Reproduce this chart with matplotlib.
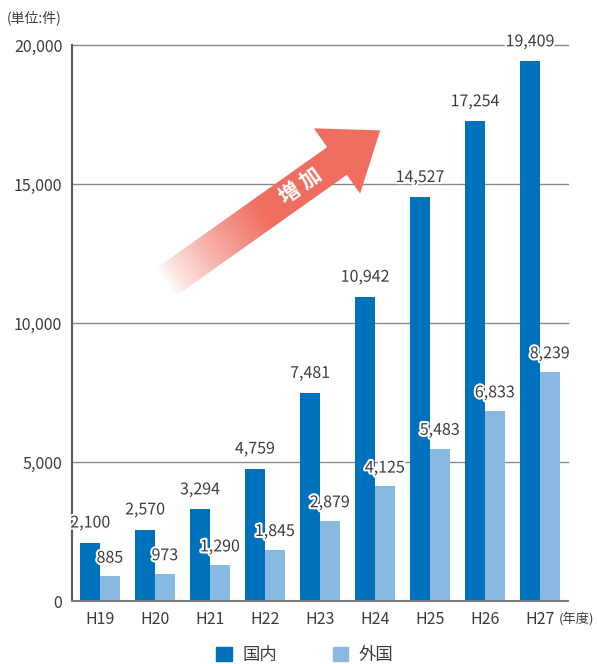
import matplotlib.pyplot as plt
import matplotlib.patheffects as pe
from matplotlib.patches import Patch, Polygon
import numpy as np

plt.rcParams['font.family'] = ['Noto Sans CJK JP', 'DejaVu Sans']

# data
years = ['H19', 'H20', 'H21', 'H22', 'H23', 'H24', 'H25', 'H26', 'H27']
domestic = [2100, 2570, 3294, 4759, 7481, 10942, 14527, 17254, 19409]
foreign = [885, 973, 1290, 1845, 2879, 4125, 5483, 6833, 8239]
series_names = ['国内', '外国']

dark_blue = '#0071bc'
light_blue = '#88b9e3'
text_col = '#3c3c3c'

W, H = 597, 664
fig = plt.figure(figsize=(W / 100, H / 100), dpi=100)
ax = fig.add_axes([72 / W, 1 - 601 / H, 496 / W, 556 / H])

x = np.arange(len(years))
bw = 0.36
ax.bar(x - 0.18, domestic, width=bw, color=dark_blue, zorder=2)
ax.bar(x + 0.18, foreign, width=bw, color=light_blue, zorder=2)

halo = [pe.withStroke(linewidth=3, foreground='white')]
for xi, v in zip(x, domestic):
    ax.annotate(f'{v:,}', (xi - 0.18, v), xytext=(0, 8), textcoords='offset points',
                ha='center', va='bottom', fontsize=11.5, color=text_col, path_effects=halo, zorder=4)
for xi, v in zip(x, foreign):
    ax.annotate(f'{v:,}', (xi + 0.18, v), xytext=(0, 7), textcoords='offset points',
                ha='center', va='bottom', fontsize=11.5, color=text_col, path_effects=halo, zorder=4)

ax.set_xlim(-0.51, len(years) - 0.49)
ax.set_ylim(0, 20000)
yt = [0, 5000, 10000, 15000, 20000]
ax.set_yticks(yt)
ax.set_yticklabels([f'{v:,}' for v in yt])
for v in yt[1:]:
    ax.axhline(v, color='#8a8a8a', lw=1, zorder=0, clip_on=False)
ax.set_xticks(x)
ax.set_xticklabels(years)
ax.tick_params(length=0, labelsize=11.5, colors=text_col, pad=7)
for s in ['top', 'right']:
    ax.spines[s].set_visible(False)
ax.spines['left'].set_color('#5a5a5a')
ax.spines['left'].set_linewidth(1.5)
ax.spines['bottom'].set_color('#7a7a7a')
ax.spines['bottom'].set_linewidth(1.5)

fig.text(7 / W, 1 - 18 / H, '(単位:件)', fontsize=10, color=text_col, va='center', ha='left')
fig.text(576 / W, 1 - 620 / H, '(年度)', fontsize=9.5, color=text_col, va='center', ha='center')

fig.legend(handles=[Patch(color=dark_blue), Patch(color=light_blue)], labels=series_names,
           loc='center', bbox_to_anchor=(305 / W, 1 - 655 / H), ncol=2, frameon=False,
           fontsize=12.5, handlelength=0.9, handleheight=0.9, columnspacing=3.2,
           handletextpad=0.6, labelcolor=text_col)

# growth arrow (decoration, pixel coordinates)
ov = fig.add_axes([0, 0, 1, 1], zorder=5)
ov.set_xlim(0, W)
ov.set_ylim(H, 0)
ov.axis('off')
ov.patch.set_visible(False)

d = np.array([0.816, -0.578])
n = np.array([0.578, 0.816])
B = np.array([337.0, 161.0])
tip = B + 53 * d
tail = B - 210 * d
pts = [tail - 17 * n, B - 17 * n, B - 40 * n, tip, B + 40 * n, B + 17 * n, tail + 17 * n]
poly = Polygon(pts, closed=True, facecolor='none', edgecolor='none')
ov.add_patch(poly)

gx, gy = np.meshgrid(np.linspace(140, 400, 300), np.linspace(110, 310, 240))
t = (gx - tail[0]) * d[0] + (gy - tail[1]) * d[1]
alpha = np.clip(t / 120, 0, 1) ** 0.8
img = np.zeros(gx.shape + (4,))
img[..., 0] = 240 / 255
img[..., 1] = 110 / 255
img[..., 2] = 96 / 255
img[..., 3] = alpha
im = ov.imshow(img, extent=(140, 400, 310, 110), origin='upper', aspect='auto', interpolation='bilinear')
im.set_clip_path(poly)

ov.text(301, 186, '増 加', rotation=35.3, rotation_mode='anchor', ha='center', va='center',
        color='white', fontsize=15, fontweight='bold')

fig.savefig('out.png', dpi=100)
